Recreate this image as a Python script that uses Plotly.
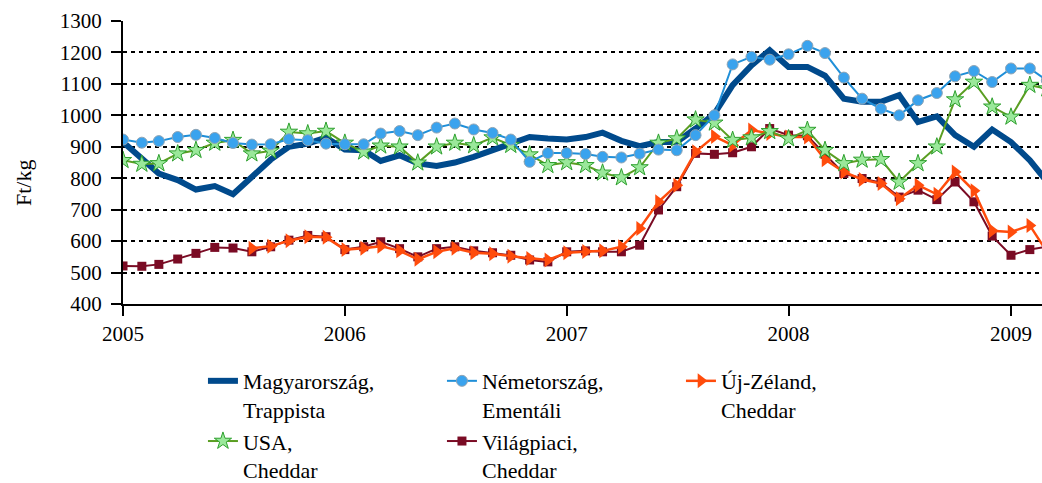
import pandas as pd
import plotly.graph_objects as go

months = pd.date_range("2005-01-01", periods=51, freq="MS")

magyar = [915, 863, 815, 794, 764, 775, 749, 804, 859, 900, 910, 929,
          891, 889, 855, 873, 847, 839, 850, 868, 889, 908, 931, 926,
          923, 931, 945, 919, 902, 915, 915, 958, 1005, 1096, 1159, 1207,
          1154, 1154, 1126, 1053, 1043, 1043, 1064, 979, 997, 937, 900, 955,
          915, 857, 790]

nemet = [923, 913, 918, 931, 938, 928, 912, 907, 908, 924, 921, 910,
         908, 908, 942, 950, 937, 961, 974, 955, 944, 923, 852, 880,
         880, 877, 868, 866, 878, 891, 889, 937, 1000, 1162, 1186, 1177,
         1194, 1221, 1198, 1120, 1053, 1021, 1000, 1048, 1071, 1124, 1141, 1106,
         1149, 1149, 1111]

ujzeland = [None, None, None, None, None, None, None, 577, 584, 601, 614, 612,
            573, 577, 584, 569, 542, 566, 577, 563, 560, 552, 545, 540,
            563, 567, 569, 582, 640, 725, 778, 884, 933, 905, 953, 942,
            931, 931, 859, 820, 796, 783, 735, 778, 749, 820, 760, 633,
            629, 650, 566]

usa = [857, 845, 847, 878, 889, 912, 921, 878, 887, 947, 942, 950,
       912, 884, 903, 900, 849, 900, 912, 904, 929, 905, 875, 841,
       850, 841, 817, 802, 834, 912, 926, 986, 976, 921, 929, 949,
       926, 953, 889, 847, 858, 860, 788, 847, 900, 1050, 1106, 1027,
       995, 1096, 1085]

vilag = [521, 520, 526, 543, 561, 580, 578, 566, 582, 603, 618, 614,
         573, 582, 598, 576, 550, 576, 582, 569, 563, 555, 540, 534,
         566, 569, 566, 566, 587, 699, 773, 879, 876, 881, 900, 958,
         937, 935, 876, 815, 799, 786, 740, 762, 732, 788, 725, 616,
         555, 573, 582]

names = ["Magyarország,<br>Trappista", "Németország,<br>Ementáli", "Új-Zéland,<br>Cheddar",
         "USA,<br>Cheddar", "Világpiaci,<br>Cheddar"]
year_ticks = ["2005-01-01", "2006-01-01", "2007-01-01", "2008-01-01", "2009-01-01"]
year_labels = ["2005", "2006", "2007", "2008", "2009"]
y_title = "Ft/kg"

FONT = "Liberation Serif, DejaVu Serif, serif"

fig = go.Figure()
fig.add_trace(go.Scatter(x=months, y=magyar, name=names[0], mode="lines",
                         line=dict(color="#004a8c", width=6), legendrank=1))
fig.add_trace(go.Scatter(x=months, y=vilag, name=names[4], mode="lines+markers",
                         line=dict(color="#7a0b24", width=2),
                         marker=dict(symbol="square", size=9, color="#7a0b24"),
                         legendrank=5))
fig.add_trace(go.Scatter(x=months, y=ujzeland, name=names[2], mode="lines+markers",
                         line=dict(color="#ff4c0c", width=2.5),
                         marker=dict(symbol="triangle-right", size=13, color="#ff4c0c"),
                         legendrank=3))
fig.add_trace(go.Scatter(x=months, y=usa, name=names[3], mode="lines+markers",
                         line=dict(color="#5a9e22", width=2),
                         marker=dict(symbol="star", size=13, color="#9ae89a",
                                     line=dict(color="#2ea02e", width=1)),
                         legendrank=4))
fig.add_trace(go.Scatter(x=months, y=nemet, name=names[1], mode="lines+markers",
                         line=dict(color="#1f8fd8", width=2),
                         marker=dict(symbol="circle", size=11, color="#3aa3ee",
                                     line=dict(color="#8fa4b4", width=1)),
                         legendrank=2))

fig.update_layout(
    width=1042, height=483,
    margin=dict(l=123, r=0, t=21, b=179, autoexpand=False),
    paper_bgcolor="white", plot_bgcolor="white",
    font=dict(family=FONT, size=21, color="black"),
    showlegend=True,
    legend=dict(orientation="h", x=0.087, y=-0.198, xanchor="left", yanchor="top",
                valign="top", entrywidth=194, entrywidthmode="pixels",
                font=dict(family=FONT, size=22, color="black"),
                itemwidth=30, traceorder="normal"),
    annotations=[dict(text=y_title, xref="paper", yref="paper",
                      x=-(123 - 23) / 919, y=(304 - 183) / 283,
                      xanchor="center", yanchor="middle", textangle=-90,
                      showarrow=False, font=dict(family=FONT, size=22, color="black"))],
)
fig.update_xaxes(
    type="date", range=["2005-01-01", "2009-02-21"], automargin=False,
    tickvals=year_ticks, ticktext=year_labels,
    showgrid=False, showline=True, linecolor="black", linewidth=2,
    ticks="outside", ticklen=10, tickwidth=2, tickcolor="black",
    tickfont=dict(family=FONT, size=21), zeroline=False,
)
fig.update_yaxes(
    range=[400, 1300], dtick=100, tick0=400, automargin=False,
    showgrid=True, gridcolor="black", gridwidth=2, griddash="4px,4px",
    showline=True, linecolor="black", linewidth=2,
    ticks="outside", ticklen=10, tickwidth=2, tickcolor="black",
    tickfont=dict(family=FONT, size=21), zeroline=False, ticklabelstandoff=5,
)

fig.write_html("out.html", config={"displayModeBar": False},
               post_script="document.body.style.margin='0';document.body.style.overflow='hidden';")
